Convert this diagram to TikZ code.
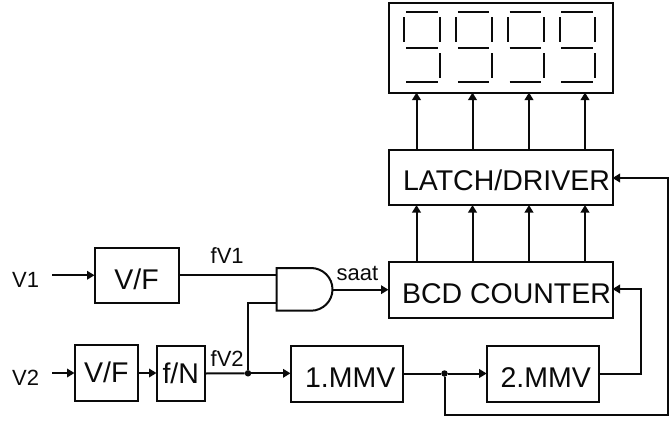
\documentclass[tikz,border=0pt]{standalone}
\usepackage{fontspec}
\setmainfont{Liberation Sans}
\usetikzlibrary{arrows.meta}
\definecolor{ink}{HTML}{0A0A0A}
\tikzset{
  wire/.style={draw=ink,line width=2pt},
  arrow/.style={wire,-{Triangle[length=7.5pt,width=8.5pt]}},
  box/.style n args={3}{draw=ink,line width=2pt,rectangle,inner sep=0pt,outer sep=0pt,
     minimum width=#1pt,minimum height=#2pt,text height=#3pt,text depth=0pt,
     font=\fontsize{28.5}{28.5}\selectfont,text=ink},
  lab/.style={inner sep=0pt,anchor=base west,font=\fontsize{22}{22}\selectfont,text=ink},
  seg/.style={draw=ink,line width=2pt},
  dot/.style={circle,fill=ink,inner sep=0pt,minimum size=6.5pt},
}
\begin{document}
\begin{tikzpicture}[x=1pt,y=-1pt]
\useasboundingbox (0,0) rectangle (671,423);
% boxes
\node[box={224}{89.5}{0}] (disp) at (500.5,47.75) {};
\node[box={224}{55}{26}] (latch) at (500.5,177.5) {\hspace*{12pt}LATCH/DRIVER};
\node[box={224}{56}{26}] (bcd) at (500.5,290) {\hspace*{12pt}BCD COUNTER};
\node[box={84}{55.5}{29}] (vf1) at (136.5,275.25) {V/F};
\node[box={63.5}{56}{19}] (vf2) at (106.25,373) {V/F};
\node[box={48.5}{55}{20}] (fn) at (180.75,373.5) {f/N};
\node[box={112.5}{56}{27}] (mmv1) at (346.75,373.5) {\hspace*{7pt}1.MMV};
\node[box={112}{56}{27}] (mmv2) at (542.7,373.7) {\hspace*{6pt}2.MMV};
% labels
\node[lab] (v1) at (12,287) {V1};
\node[lab] (v2) at (12,385) {V2};
\node[lab] (fv1) at (210.5,263) {fV1};
\node[lab] (fv2) at (210.5,366) {fV2};
\node[lab] (saat) at (336.5,280) {saat};
% free ends and gate
\coordinate (s1) at (52,275.25);
\coordinate (s2) at (52,373);
\coordinate (in1) at (276.5,275.25);
\coordinate (in2) at (276.5,303);
\coordinate (out) at (332.5,289.7);
\draw[wire,line join=miter] (276.5,268) -- (311,268) arc[start angle=90,end angle=-90,x radius=21.5pt,y radius=21.35pt] -- (276.5,310.7) -- cycle;
% junctions
\node[dot] (j1) at (248,373.3) {};
\node[dot] (j2) at (444.5,373.5) {};
% connectors
\draw[arrow] (s1) -- (vf1.west);
\draw[arrow] (s2) -- (vf2.west);
\draw[arrow] (vf2.east) -- (fn.west |- vf2.east);
\draw[wire] (vf1.east) -- (in1);
\draw[arrow] (out) -- (bcd.west |- out);
\draw[wire] (fn.east) -- (j1);
\draw[arrow] (j1) -- (mmv1.west |- j1);
\draw[wire] (j1) |- (in2);
\draw[wire] (mmv1.east) -- (j2);
\draw[arrow] (j2) -- (mmv2.west |- j2);
\draw[arrow] (mmv2.east) -- (641,373.7) -- (641,289) -- (bcd.east |- 0,289);
\draw[arrow] (j2) -- (444.5,415) -- (668,415) -- (668,178) -- (latch.east |- 0,178);
% buses
\foreach \x [count=\i] in {416.5,472.5,529,585}{
  \coordinate (c\i) at (\x,0);
  \draw[arrow] (bcd.north -| c\i) -- (latch.south -| c\i);
  \draw[arrow] (latch.north -| c\i) -- (disp.south -| c\i);
}
% seven-segment digits
\foreach \d in {0,51.8,103.6,155.4}{
  \begin{scope}[xshift=\d pt]
    \draw[seg] (406,12) -- (437.5,12);
    \draw[seg] (404.3,17) -- (404.3,42);
    \draw[seg] (440,17) -- (440,42);
    \draw[seg] (406,47.7) -- (437.5,47.7);
    \draw[seg] (440,53) -- (440,77.5);
    \draw[seg] (406,82.3) -- (437.5,82.3);
  \end{scope}
}
\end{tikzpicture}
\end{document}
